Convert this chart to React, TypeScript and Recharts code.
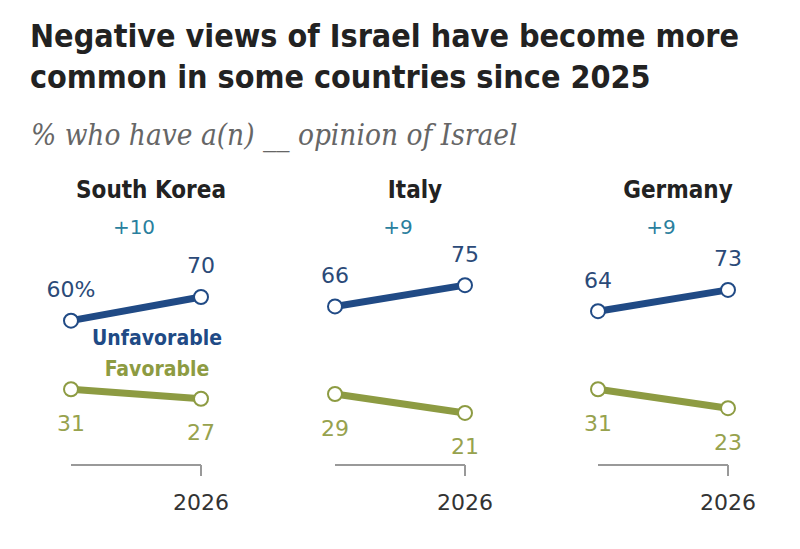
import React from "react";
import { LabelList, Line, LineChart, XAxis, YAxis } from "recharts";

const years = ["2025", "2026"];
const countries = ["South Korea", "Italy", "Germany"];
const unfavorable = [
  [60, 70],
  [66, 75],
  [64, 73],
];
const favorable = [
  [31, 27],
  [29, 21],
  [31, 23],
];

const BLUE = "#204a85";
const OLIVE = "#8d9b42";
const TEAL = "#2a7f9e";
const NUM_FONT = "'DejaVu Sans', sans-serif";
const HEAD_FONT = "'DejaVu Sans Condensed', 'DejaVu Sans', sans-serif";

const panelLefts = [0, 264, 527];

const AxisTick = (props: any) => {
  const { x, y, payload } = props;
  if (payload.value !== years[years.length - 1]) return null;
  return (
    <g>
      <line x1={x} x2={x} y1={y} y2={y + 11} stroke="#999" strokeWidth={2} />
      <text
        x={x}
        y={y + 45}
        textAnchor="middle"
        fill="#333"
        fontSize={22}
        fontFamily={NUM_FONT}
      >
        {payload.value}
      </text>
    </g>
  );
};

const valueLabel = (color: string, dy: number, pct: boolean) => (props: any) => {
  const { x, y, value, index } = props;
  return (
    <text
      x={x}
      y={y + dy}
      textAnchor="middle"
      dominantBaseline="central"
      fill={color}
      fontSize={22}
      fontFamily={NUM_FONT}
    >
      {pct && index === 0 ? `${value}%` : value}
    </text>
  );
};

const Panel = ({ i }: { i: number }) => {
  const data = years.map((year, k) => ({
    year,
    unfav: unfavorable[i][k],
    fav: favorable[i][k],
  }));
  const diff = unfavorable[i][1] - unfavorable[i][0];
  return (
    <div style={{ position: "absolute", left: panelLefts[i], top: 0 }}>
      <LineChart
        width={260}
        height={549}
        data={data}
        margin={{ top: 226, right: 59, bottom: 34, left: 71 }}
      >
        <XAxis
          dataKey="year"
          height={50}
          axisLine={{ stroke: "#999", strokeWidth: 2 }}
          tickLine={false}
          tickSize={0}
          tickMargin={0}
          tick={<AxisTick />}
          interval={0}
        />
        <YAxis hide domain={[-1, 100]} />
        <Line
          dataKey="unfav"
          stroke={BLUE}
          strokeWidth={7}
          dot={{ r: 7, fill: "#fff", stroke: BLUE, strokeWidth: 2 }}
          isAnimationActive={false}
        >
          <LabelList content={valueLabel("#2b4a78", -31, i === 0)} />
        </Line>
        <Line
          dataKey="fav"
          stroke={OLIVE}
          strokeWidth={7}
          dot={{ r: 7, fill: "#fff", stroke: OLIVE, strokeWidth: 2 }}
          isAnimationActive={false}
        >
          <LabelList content={valueLabel("#97a24e", 34, false)} />
        </Line>
      </LineChart>
      <svg
        width={260}
        height={549}
        style={{ position: "absolute", left: 0, top: 0, pointerEvents: "none" }}
      >
        <text
          x={151}
          y={190}
          textAnchor="middle"
          dominantBaseline="central"
          fontSize={24}
          fontWeight="bold"
          fill="#222"
          fontFamily={HEAD_FONT}
        >
          {countries[i]}
        </text>
        <text
          x={134}
          y={227}
          textAnchor="middle"
          dominantBaseline="central"
          fontSize={20}
          fill={TEAL}
          fontFamily={NUM_FONT}
        >
          {`+${diff}`}
        </text>
        {i === 0 && (
          <>
            <text
              x={157}
              y={338}
              textAnchor="middle"
              dominantBaseline="central"
              fontSize={21}
              fontWeight="bold"
              fill={BLUE}
              fontFamily={HEAD_FONT}
            >
              Unfavorable
            </text>
            <text
              x={157}
              y={369}
              textAnchor="middle"
              dominantBaseline="central"
              fontSize={21}
              fontWeight="bold"
              fill={OLIVE}
              fontFamily={HEAD_FONT}
            >
              Favorable
            </text>
          </>
        )}
      </svg>
    </div>
  );
};

export default function App() {
  return (
    <div
      style={{
        position: "absolute",
        left: 0,
        top: 0,
        width: 800,
        height: 549,
        background: "#fff",
        overflow: "hidden",
      }}
    >
      <svg width={800} height={549} style={{ position: "absolute", left: 0, top: 0 }}>
        <text x={30} y={47} fontSize={32} fontWeight="bold" fill="#222" fontFamily={HEAD_FONT}>
          Negative views of Israel have become more
        </text>
        <text x={30} y={88} fontSize={32} fontWeight="bold" fill="#222" fontFamily={HEAD_FONT}>
          common in some countries since 2025
        </text>
        <text
          x={31}
          y={145}
          fontSize={29.5}
          fontStyle="italic"
          fill="#666"
          fontFamily="'DejaVu Serif Condensed', 'DejaVu Serif', serif"
        >
          % who have a(n) __ opinion of Israel
        </text>
      </svg>
      {countries.map((_, i) => (
        <Panel key={i} i={i} />
      ))}
    </div>
  );
}
